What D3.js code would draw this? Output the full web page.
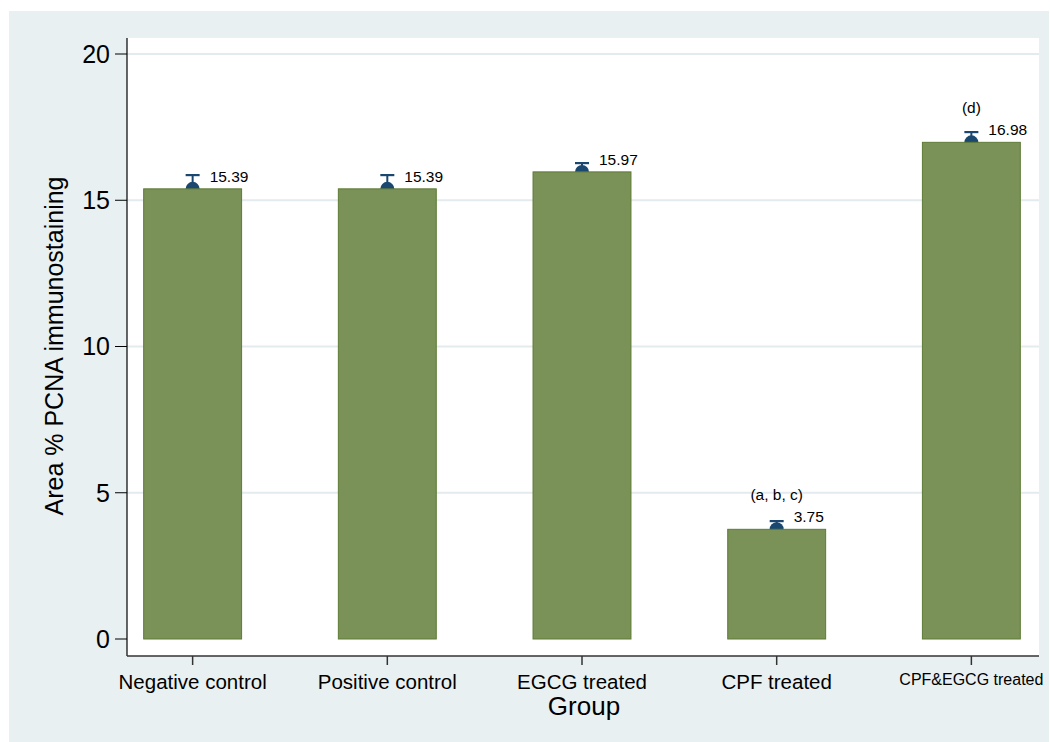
<!DOCTYPE html>
<html>
<head>
<meta charset="utf-8">
<script src="https://cdn.jsdelivr.net/npm/d3@7"></script>
<style>
  html, body { margin: 0; padding: 0; background: #ffffff; }
  svg { display: block; font-family: "Liberation Sans", Arial, Helvetica, sans-serif; }
</style>
</head>
<body>
<svg id="chart" width="1050" height="742"></svg>
<script>
// Groups and measurements
const groups = ["Negative control", "Positive control", "EGCG treated", "CPF treated", "CPF&EGCG treated"];
const means = [15.39, 15.39, 15.97, 3.75, 16.98];
const upperBounds = [15.86, 15.86, 16.27, 4.03, 17.33];
const lowerBounds = [14.92, 14.92, 15.67, 3.47, 16.63];
const sigLetters = ["", "", "", "(a, b, c)", "(d)"];
const yTicks = [0, 5, 10, 15, 20];

const svg = d3.select("#chart");
const W = 1050, H = 742;

// outer graph region
svg.append("rect").attr("x", 9).attr("y", 11).attr("width", W - 9 - 1).attr("height", H - 11)
  .attr("fill", "#e9f0f2");

const plot = { left: 127, right: 1039, top: 38, bottom: 656 };

svg.append("rect").attr("x", plot.left).attr("y", plot.top)
  .attr("width", plot.right - plot.left).attr("height", plot.bottom - plot.top)
  .attr("fill", "#ffffff");

const y = d3.scaleLinear().domain([0, 20]).range([639, 54]);
const x = d3.scaleBand().domain(groups).range([95, 1069]).paddingInner(0.497).paddingOuter(0.25);

// gridlines
svg.append("g").selectAll("line").data(yTicks.filter(d => d > 0)).join("line")
  .attr("x1", plot.left).attr("x2", plot.right)
  .attr("y1", d => y(d)).attr("y2", d => y(d))
  .attr("stroke", "#e3ebee").attr("stroke-width", 2);

const rows = groups.map((g, i) => ({ g, m: means[i], hi: upperBounds[i], lo: lowerBounds[i], sig: sigLetters[i] }));
const cx = d => x(d.g) + x.bandwidth() / 2;
const navy = "#1a476f";

// error bars and mean markers (drawn beneath the bars)
const eb = svg.append("g");
eb.selectAll("line.stem").data(rows).join("line")
  .attr("x1", cx).attr("x2", cx).attr("y1", d => y(d.lo)).attr("y2", d => y(d.hi))
  .attr("stroke", navy).attr("stroke-width", 2);
eb.selectAll("line.cap").data(rows).join("line")
  .attr("x1", d => cx(d) - 7).attr("x2", d => cx(d) + 7)
  .attr("y1", d => y(d.hi)).attr("y2", d => y(d.hi))
  .attr("stroke", navy).attr("stroke-width", 2.2);
eb.selectAll("circle").data(rows).join("circle")
  .attr("cx", cx).attr("cy", d => y(d.m)).attr("r", 7)
  .attr("fill", navy);

// bars
svg.append("g").selectAll("rect").data(rows).join("rect")
  .attr("x", d => x(d.g)).attr("width", x.bandwidth())
  .attr("y", d => y(d.m)).attr("height", d => y(0) - y(d.m))
  .attr("fill", "#7a9157").attr("stroke", "#5e7b35").attr("stroke-width", 1);

// value labels
svg.append("g").selectAll("text").data(rows).join("text")
  .attr("x", d => cx(d) + 17).attr("y", d => y(d.m) - 7)
  .attr("font-size", 15.5).attr("fill", "#000")
  .text(d => d.m.toFixed(2));

// significance letters
svg.append("g").selectAll("text").data(rows.filter(d => d.sig)).join("text")
  .attr("x", cx).attr("y", d => y(d.m + 1))
  .attr("text-anchor", "middle").attr("font-size", 15.5).attr("fill", "#000")
  .text(d => d.sig);

// y axis
const yAxis = svg.append("g");
yAxis.append("line").attr("x1", plot.left).attr("x2", plot.left)
  .attr("y1", plot.top).attr("y2", plot.bottom).attr("stroke", "#000").attr("stroke-width", 1.2);
yAxis.selectAll("line.tick").data(yTicks).join("line")
  .attr("x1", 115).attr("x2", plot.left).attr("y1", d => y(d)).attr("y2", d => y(d))
  .attr("stroke", "#000").attr("stroke-width", 1);
yAxis.selectAll("text").data(yTicks).join("text")
  .attr("x", 110).attr("y", d => y(d)).attr("dy", "0.35em")
  .attr("text-anchor", "end").attr("font-size", 25).attr("fill", "#000")
  .text(d => d);

// x axis
const xAxis = svg.append("g");
xAxis.append("line").attr("x1", plot.left).attr("x2", plot.right)
  .attr("y1", plot.bottom).attr("y2", plot.bottom).attr("stroke", "#333").attr("stroke-width", 1.5);
xAxis.selectAll("line.tick").data(rows).join("line")
  .attr("x1", cx).attr("x2", cx).attr("y1", plot.bottom).attr("y2", plot.bottom + 9)
  .attr("stroke", "#333").attr("stroke-width", 1.5);
xAxis.selectAll("text").data(rows).join("text")
  .attr("x", cx).attr("y", (d, i) => i === 4 ? 685 : 689)
  .attr("text-anchor", "middle").attr("font-size", (d, i) => i === 4 ? 16 : 20.5).attr("fill", "#000")
  .text(d => d.g);

// axis titles
svg.append("text").attr("x", 584).attr("y", 715).attr("text-anchor", "middle")
  .attr("font-size", 26).attr("fill", "#000").text("Group");
svg.append("text").attr("transform", "translate(63,346) rotate(-90)")
  .attr("text-anchor", "middle").attr("font-size", 25).attr("fill", "#000")
  .text("Area % PCNA immunostaining");
</script>
</body>
</html>
